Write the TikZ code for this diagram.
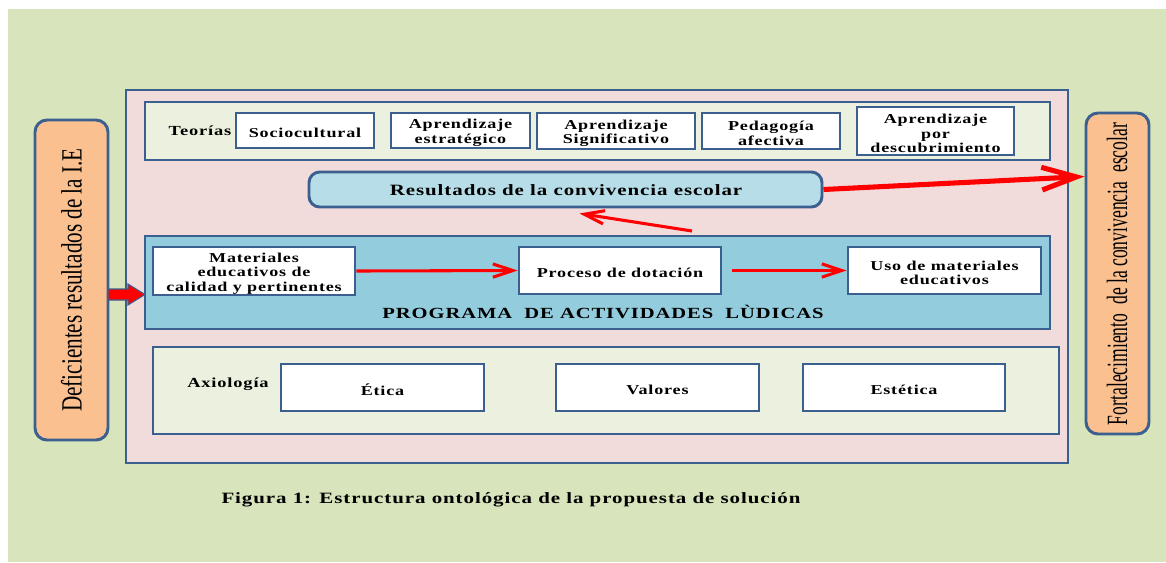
\documentclass[tikz,border=0pt]{standalone}
\usepackage{fontspec}
\setmainfont{Liberation Serif}
\newfontfamily\spaced[LetterSpace=6,FakeStretch=1.33]{Liberation Serif}
\usetikzlibrary{arrows.meta,fit}
\definecolor{bgc}{HTML}{D8E4BC}
\definecolor{pinkc}{HTML}{F2DCDB}
\definecolor{lgreen}{HTML}{EBF1DE}
\definecolor{lblue}{HTML}{B7DEE8}
\definecolor{progc}{HTML}{93CDDD}
\definecolor{orangec}{HTML}{FAC090}
\definecolor{bord}{HTML}{3B5F8E}
\tikzset{
  panel/.style={draw=bord, line width=2.2pt, inner sep=0pt},
  wbox/.style={draw=bord, fill=white, line width=2pt, inner sep=0pt},
  wtxt/.style={inner sep=0pt, align=center, yshift=-1.8pt,
    font=\spaced\bfseries\fontsize{10.2pt}{10.9pt}\selectfont},
  lab/.style={inner sep=0pt, font=\spaced\bfseries\fontsize{10.4pt}{12pt}\selectfont},
  biglab/.style={inner sep=0pt, font=\spaced\bfseries\fontsize{11.8pt}{13pt}\selectfont},
  obox/.style={draw=bord, fill=orangec, line width=2.2pt, inner sep=0pt, rounded corners=9pt},
  redarrow/.style={draw=red, line width=2.3pt, -{Straight Barb[length=15pt,width=10pt]}},
  bigarrow/.style={draw=red, line width=3.8pt, -{Straight Barb[length=26pt,width=17pt]}}
}
\begin{document}
\begin{tikzpicture}[x=0.75pt,y=-0.75pt]
\useasboundingbox (0,0) rectangle (1166,562);
\fill[bgc] (8,9) rectangle (1166,562);

% outer panel
\node[panel, fill=pinkc, fit={(126,90) (1068,463)}] (outer) {};

% side boxes
\node[obox, fit={(35,120) (108,440)}] (lft) {};
\node[rotate=90, inner sep=0pt, font=\fontsize{22pt}{24pt}\selectfont] (lftt) at (lft.center)
  {\scalebox{0.72}[1]{Deficientes resultados de la I.E}};
\node[obox, fit={(1086,113) (1149,434)}] (fort) {};
\node[rotate=90, inner sep=0pt, font=\fontsize{22pt}{24pt}\selectfont] (fortt) at (1117,274)
  {\scalebox{0.6}[1]{Fortalecimiento\ \ de la convivencia\ \ escolar}};

% teorias
\node[panel, fill=lgreen, fit={(145,102) (1050,160)}] (teop) {};
\node[lab] (teo) at (200,131) {Teorías};
\node[wbox, fit={(236,113) (374,148)}] (soc) {};
\node[wtxt] (soct) at (soc.center) {Sociocultural};
\node[wbox, fit={(391,113) (530,148)}] (est) {};
\node[wtxt] (estt) at (est.center) {Aprendizaje\\estratégico};
\node[wbox, fit={(537,113) (695,149)}] (sig) {};
\node[wtxt] (sigt) at (sig.center) {Aprendizaje\\Significativo};
\node[wbox, fit={(702,113) (840,149)}] (ped) {};
\node[wtxt] (pedt) at (ped.center) {Pedagogía\\afectiva};
\node[wbox, fit={(857,107) (1014,155)}] (des) {};
\node[wtxt] (dest) at (des.center) {Aprendizaje\\por\\descubrimiento};

% resultados
\node[panel, fill=lblue, rounded corners=8pt, fit={(309,172) (822,207)}] (res) {};
\node[biglab] (rest) at (566,190) {Resultados de la convivencia escolar};

% programa
\node[panel, fill=progc, fit={(145,236) (1050,329)}] (prog) {};
\node[wbox, fit={(153,247) (355,295)}] (mat) {};
\node[wtxt] (matt) at (mat.center) {Materiales\\educativos de\\calidad y pertinentes};
\node[wbox, fit={(519,247) (721,294)}] (proc) {};
\node[wtxt] (proct) at (proc.center) {Proceso de dotación};
\node[wbox, fit={(848,247) (1041,294)}] (uso) {};
\node[wtxt] (usot) at (uso.center) {Uso de materiales\\educativos};
\node[lab, font=\spaced\bfseries\fontsize{11.6pt}{13pt}\selectfont] (progt) at (603,312) {PROGRAMA\ \ DE ACTIVIDADES\ \ LÙDICAS};

% axiologia
\node[panel, fill=lgreen, fit={(153,347) (1059,434)}] (axp) {};
\node[lab] (axt) at (228,384) {Axiología};
\node[wbox, fit={(281,364) (484,411)}] (eti) {};
\node[wtxt] (etit) at (eti.center) {Ética};
\node[wbox, fit={(556,364) (759,411)}] (val) {};
\node[wtxt] (valt) at (val.center) {Valores};
\node[wbox, fit={(803,364) (1005,411)}] (esta) {};
\node[wtxt] (estat) at (esta.center) {Estética};

% caption
\node[biglab] (cap) at (511,500) {Figura 1: Estructura ontológica de la propuesta de solución};

% arrows
\draw[redarrow] (mat.east) -- (proc.west);
\draw[redarrow, shorten <=7pt] (proc.east) -- (uso.west);
\path (fort.west) ++(0,-97) coordinate (fin);
\draw[bigarrow] (res.east) -- (fin);
\coordinate (up1) at (692,231);
\path (res.south) ++(14,5) coordinate (up2);
\draw[redarrow] (up1) -- (up2);

% block arrow into programa
\draw[fill=red, draw=bord, line width=0.8pt]
  (108,289) -- (128,289) -- (128,284) -- (145,294.5) -- (128,305) -- (128,300) -- (108,300) -- cycle;
\end{tikzpicture}
\end{document}
